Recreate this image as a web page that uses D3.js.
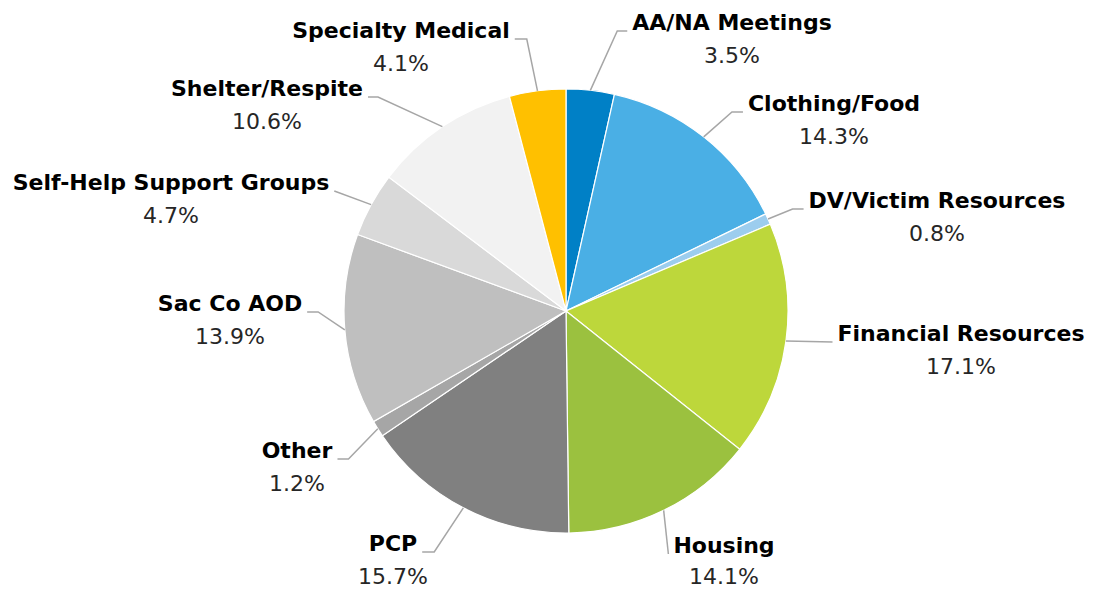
<!DOCTYPE html>
<html>
<head>
<meta charset="utf-8">
<script src="https://cdn.jsdelivr.net/npm/d3@7"></script>
<style>
	html, body { margin: 0; padding: 0; background: #fff; }
	svg { display: block; font-family: "DejaVu Sans", sans-serif; }
	.name { font-weight: bold; fill: #000; font-size: 22px; }
	.pct { fill: #262626; font-size: 22px; }
</style>
</head>
<body>
<svg id="chart"></svg>
<script>
// chart data, clockwise from 12 o'clock
var categories = ["AA/NA Meetings", "Clothing/Food", "DV/Victim Resources", "Financial Resources",
	"Housing", "PCP", "Other", "Sac Co AOD", "Self-Help Support Groups", "Shelter/Respite", "Specialty Medical"];
var shares = [3.5, 14.3, 0.8, 17.1, 14.1, 15.7, 1.2, 13.9, 4.7, 10.6, 4.1];
var colors = ["#0080c6", "#4aafe5", "#9ccdee", "#bdd73b", "#9bc13f", "#808080", "#a6a6a6",
	"#bfbfbf", "#d9d9d9", "#f2f2f2", "#ffc000"];

// label placement (text centre x, name baseline y, leader side, elbow length)
var labelPos = [
	{x: 732, y: 30, side: "left", h: 10},
	{x: 834, y: 111, side: "left", h: 11},
	{x: 937, y: 208, side: "left", h: 11},
	{x: 961, y: 341, side: "left", h: 0},
	{x: 724, y: 553, side: "left", h: 0},
	{x: 393, y: 551, side: "right", h: 12},
	{x: 297, y: 458, side: "right", h: 11},
	{x: 230, y: 311, side: "right", h: 11},
	{x: 171, y: 190, side: "right", h: 0},
	{x: 267, y: 96, side: "right", h: 10},
	{x: 401, y: 38, side: "right", h: 12}
];

var width = 1094, height = 591;
var cx = 566, cy = 311, radius = 222;

var svg = d3.select("#chart")
	.attr("width", width)
	.attr("height", height);

var pie = d3.pie().sort(null).value(function(d) { return d; });
var arcs = pie(shares);
var arc = d3.arc().innerRadius(0).outerRadius(radius);

var g = svg.append("g").attr("transform", "translate(" + cx + "," + cy + ")");

g.selectAll("path.slice")
	.data(arcs)
	.enter().append("path")
	.attr("class", "slice")
	.attr("d", arc)
	.attr("fill", function(d, i) { return colors[i]; })
	.attr("stroke", "#fff")
	.attr("stroke-width", 1.2);

var fmt = d3.format(".1f");
var labels = svg.append("g");

arcs.forEach(function(a, i) {
	var p = labelPos[i];
	var name = labels.append("text")
		.attr("class", "name")
		.attr("x", p.x).attr("y", p.y)
		.attr("text-anchor", "middle")
		.text(categories[i]);
	labels.append("text")
		.attr("class", "pct")
		.attr("x", p.x).attr("y", p.y + (i === 4 ? 31 : 33))
		.attr("text-anchor", "middle")
		.text(fmt(shares[i]) + "%");

	// leader line: slice edge -> elbow -> text edge
	var bb = name.node().getBBox();
	var mid = (a.startAngle + a.endAngle) / 2;
	var sx = cx + radius * Math.sin(mid), sy = cy - radius * Math.cos(mid);
	var ex, ey = p.y + 1, kx;
	if(p.side === "left") {
		ex = bb.x - 5;
		kx = ex - p.h;
	} else {
		ex = bb.x + bb.width + 5;
		kx = ex + p.h;
	}
	labels.insert("path", ":first-child")
		.attr("d", "M" + sx + "," + sy + "L" + kx + "," + ey + "L" + ex + "," + ey)
		.attr("fill", "none")
		.attr("stroke", "#a6a6a6")
		.attr("stroke-width", 1.5);
});
</script>
</body>
</html>
